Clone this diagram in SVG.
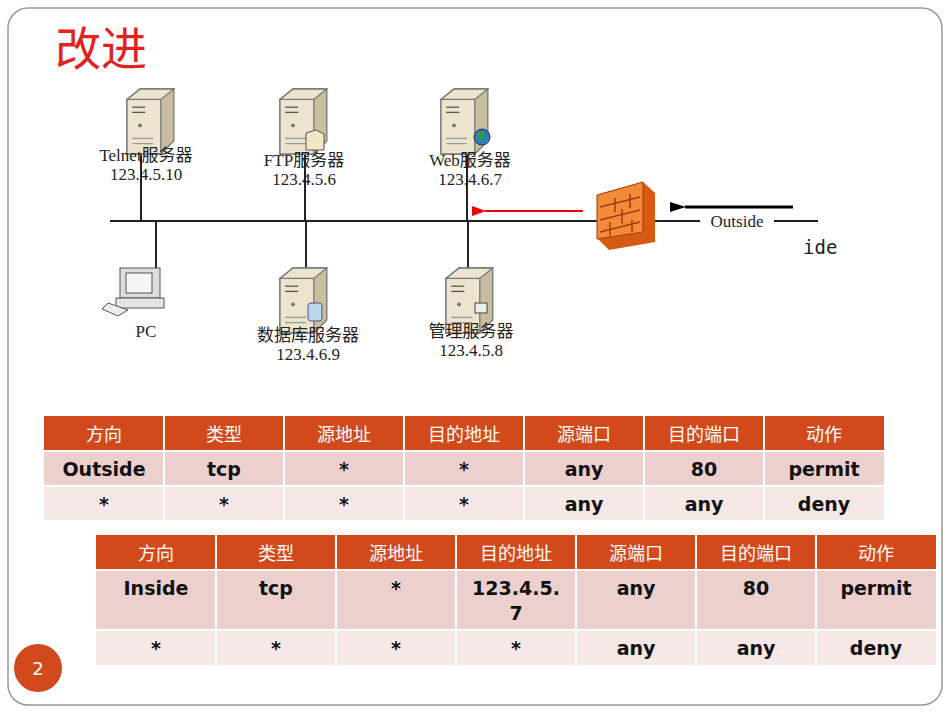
<svg xmlns="http://www.w3.org/2000/svg" width="950" height="713" viewBox="0 0 950 713">
<style>
.lbl{font-family:"Liberation Serif",serif;font-size:17px;fill:#222;text-anchor:middle}
.cn{font-family:"Liberation Serif","Noto Sans CJK SC",serif;font-size:17px;fill:#222;text-anchor:middle}
.ln{stroke:#222;stroke-width:2;fill:none}
.hd{fill:#d24a1b}
.th{font-family:"Noto Sans CJK SC",sans-serif;font-size:18px;fill:#fff;text-anchor:middle}
.td{font-family:"DejaVu Sans",sans-serif;font-weight:bold;font-size:19px;fill:#111;text-anchor:middle}
.r1{fill:#ecd0cd}.r2{fill:#f6e8e6}
.gl{stroke:#fff;stroke-width:2}
.sf{fill:#ece4cf;stroke:#777;stroke-width:1}
.ss{fill:#c9bd9f;stroke:#777;stroke-width:1}
</style>
<defs>
<marker id="ab" markerWidth="16" markerHeight="10" refX="1" refY="5" orient="auto" markerUnits="userSpaceOnUse"><path d="M16,0 L0,5 L16,10 Z" fill="#000"/></marker>
<marker id="ar" markerWidth="14" markerHeight="10" refX="1" refY="5" orient="auto" markerUnits="userSpaceOnUse"><path d="M14,0 L0,5 L14,10 Z" fill="#e00"/></marker>
<g id="srv" transform="scale(1.3)"><path class="ss" d="M0,8 L10,0 L36,0 L36,40 L26,50 L0,50 Z"/><path class="sf" d="M0,8 L26,8 L26,50 L0,50 Z"/><path class="sf" d="M0,8 L10,0 L36,0 L26,8 Z"/><line x1="4" y1="14" x2="14" y2="14" stroke="#555"/><line x1="4" y1="18" x2="14" y2="18" stroke="#555"/><circle cx="10" cy="28" r="1.5" fill="#777"/><line x1="4" y1="38" x2="20" y2="38" stroke="#999"/><line x1="4" y1="42" x2="20" y2="42" stroke="#999"/></g>
</defs>
<rect x="8" y="8" width="934" height="697" rx="20" fill="#fff" stroke="#999" stroke-width="1.5"/>
<text x="55" y="65" font-family="Noto Sans CJK SC,sans-serif" font-size="46" fill="#e3211f">改进</text>

<g id="connectors">
<line class="ln" x1="110" y1="221" x2="597" y2="221"/>
<line class="ln" x1="655" y1="221" x2="700" y2="221"/>
<line class="ln" x1="774" y1="221" x2="818" y2="221"/>
<line class="ln" x1="141" y1="150" x2="141" y2="221"/>
<line class="ln" x1="156" y1="221" x2="156" y2="268"/>
<line class="ln" x1="305" y1="150" x2="305" y2="221"/>
<line class="ln" x1="306" y1="221" x2="306" y2="268"/>
<line class="ln" x1="467" y1="150" x2="467" y2="221"/>
<line class="ln" x1="468" y1="221" x2="468" y2="268"/>
<line x1="583" y1="211" x2="485" y2="211" stroke="#e00" stroke-width="2" marker-end="url(#ar)"/>
<line x1="793" y1="207" x2="685" y2="207" stroke="#000" stroke-width="3" marker-end="url(#ab)"/>
</g>

<g id="telnet"><use href="#srv" transform="translate(127,89)"/><text class="cn" x="146" y="161">Telnet服务器</text><text class="lbl" x="146" y="180">123.4.5.10</text></g>
<g id="ftp"><use href="#srv" transform="translate(280,89)"/><path d="M306,133 L316,130 L324,134 L324,150 L306,150 Z" fill="#f3e6c4" stroke="#555"/><text class="cn" x="304" y="166">FTP服务器</text><text class="lbl" x="304" y="185">123.4.5.6</text></g>
<g id="web"><use href="#srv" transform="translate(441,89)"/><circle cx="482" cy="137" r="8" fill="#2a7cc0" stroke="#333"/><path d="M477,134 L483,131 L485,137 L480,141 Z" fill="#3a9a3a"/><text class="cn" x="470" y="166">Web服务器</text><text class="lbl" x="470" y="185">123.4.6.7</text></g>
<g id="pc"><rect x="120" y="268" width="40" height="30" fill="#ddd" stroke="#555"/><rect x="126" y="273" width="26" height="20" fill="#f5f5f5" stroke="#555"/><rect x="116" y="298" width="48" height="10" fill="#e5e5e5" stroke="#555"/><path d="M108,303 L128,310 L118,316 L102,309 Z" fill="#eee" stroke="#555"/><text class="lbl" x="146" y="337">PC</text></g>
<g id="db"><use href="#srv" transform="translate(280,268)"/><rect x="308" y="303" width="14" height="18" rx="3" fill="#bcd6ee" stroke="#557"/><text class="cn" x="308" y="341">数据库服务器</text><text class="lbl" x="308" y="360">123.4.6.9</text></g>
<g id="mgmt"><use href="#srv" transform="translate(446,268)"/><rect x="475" y="303" width="12" height="10" fill="#eee" stroke="#444"/><text class="cn" x="471" y="337">管理服务器</text><text class="lbl" x="471" y="356">123.4.5.8</text></g>
<g id="firewall"><path d="M597,195 L643,182 L655,193 L655,242 L609,250 L597,238 Z" fill="#d85a12"/><path d="M597,195 L643,182 L643,232 L597,239 Z" fill="#f38a3a" stroke="#a03c0a"/><path d="M600,207 L640,197 M600,220 L640,210 M600,232 L640,222 M615,198 L615,212 M630,194 L630,208 M622,209 L622,224 M610,222 L610,236 M632,220 L632,232" stroke="#a03c0a" stroke-width="1.5" fill="none"/></g>
<text x="737" y="227" class="lbl" font-size="18">Outside</text>
<text x="803" y="254" font-family="DejaVu Sans Mono,monospace" font-size="19" fill="#222">ide</text>

<g id="table1">
<rect class="hd" x="44" y="416" width="840" height="35"/>
<rect class="r1" x="44" y="451" width="840" height="35"/>
<rect class="r2" x="44" y="486" width="840" height="34"/>
<path class="gl" d="M44,451H884M44,486H884M164,416V520M284,416V520M404,416V520M524,416V520M644,416V520M764,416V520"/>
<g class="th"><text x="104" y="441">方向</text><text x="224" y="441">类型</text><text x="344" y="441">源地址</text><text x="464" y="441">目的地址</text><text x="584" y="441">源端口</text><text x="704" y="441">目的端口</text><text x="824" y="441">动作</text></g>
<g class="td"><text x="104" y="476">Outside</text><text x="224" y="476">tcp</text><text x="344" y="476">*</text><text x="464" y="476">*</text><text x="584" y="476">any</text><text x="704" y="476">80</text><text x="824" y="476">permit</text>
<text x="104" y="511">*</text><text x="224" y="511">*</text><text x="344" y="511">*</text><text x="464" y="511">*</text><text x="584" y="511">any</text><text x="704" y="511">any</text><text x="824" y="511">deny</text></g>
</g>
<g id="table2">
<rect class="hd" x="96" y="535" width="840" height="35"/>
<rect class="r1" x="96" y="570" width="840" height="60"/>
<rect class="r2" x="96" y="630" width="840" height="35"/>
<path class="gl" d="M96,570H936M96,630H936M216,535V665M336,535V665M456,535V665M576,535V665M696,535V665M816,535V665"/>
<g class="th"><text x="156" y="560">方向</text><text x="276" y="560">类型</text><text x="396" y="560">源地址</text><text x="516" y="560">目的地址</text><text x="636" y="560">源端口</text><text x="756" y="560">目的端口</text><text x="876" y="560">动作</text></g>
<g class="td"><text x="156" y="595">Inside</text><text x="276" y="595">tcp</text><text x="396" y="595">*</text><text x="516" y="595">123.4.5.</text><text x="516" y="620">7</text><text x="636" y="595">any</text><text x="756" y="595">80</text><text x="876" y="595">permit</text>
<text x="156" y="655">*</text><text x="276" y="655">*</text><text x="396" y="655">*</text><text x="516" y="655">*</text><text x="636" y="655">any</text><text x="756" y="655">any</text><text x="876" y="655">deny</text></g>
</g>
<g id="page"><circle cx="38" cy="668" r="24" fill="#d24a1b"/><text x="38" y="675" font-family="DejaVu Sans,sans-serif" font-size="18" fill="#fff" text-anchor="middle">2</text></g>
</svg>
